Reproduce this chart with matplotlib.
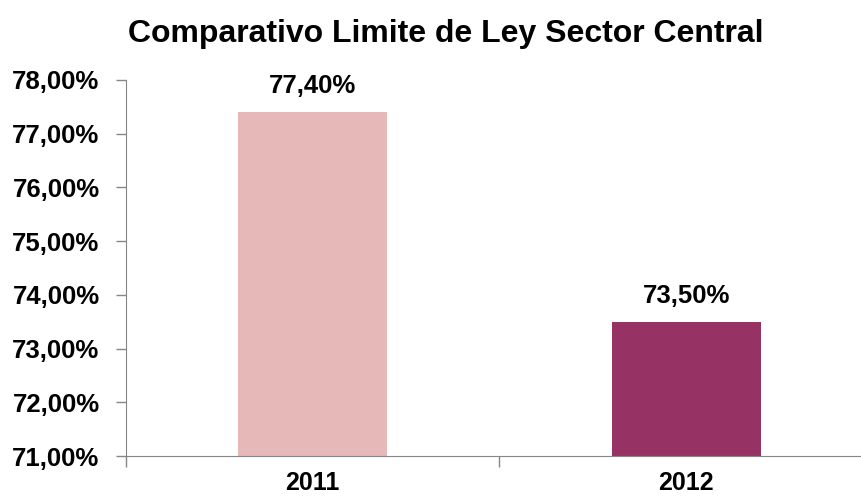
import matplotlib.pyplot as plt
from matplotlib.ticker import FuncFormatter

years = ["2011", "2012"]
values = [77.40, 73.50]
colors = ["#E6B8B7", "#963264"]
yticks = [71, 72, 73, 74, 75, 76, 77, 78]

plt.rcParams['font.family'] = ['Liberation Sans', 'DejaVu Sans']
plt.rcParams['font.weight'] = 'bold'

fig = plt.figure(figsize=(8.61, 4.98), dpi=100)
ax = fig.add_axes([0.1463, 0.0843, 0.8676, 0.7551])

x = list(range(len(years)))
ax.bar(x, values, width=0.40, color=colors, bottom=0)
ax.set_ylim(71, 78)
ax.set_xlim(-0.5, 1.5)
ax.set_yticks(yticks)
ax.yaxis.set_major_formatter(FuncFormatter(lambda v, p: f"{v:.2f}%".replace(".", ",")))

for xi, v in zip(x, values):
    ax.annotate(f"{v:.2f}%".replace(".", ","), (xi, v), xytext=(0, 10),
                textcoords="offset points", ha="center", va="bottom",
                fontsize=18.5, fontweight="bold")

# category labels between boundary ticks
ax.set_xticks([-0.5, 0.5, 1.5])
ax.set_xticklabels([])
ax.set_xticks(x, minor=True)
ax.set_xticklabels(years, minor=True, fontsize=18, fontweight="bold")
ax.tick_params(axis="x", which="minor", length=0, pad=11)
ax.tick_params(axis="x", which="major", length=8, color="#868686", width=1)
ax.tick_params(axis="y", length=7, color="#868686", width=1, labelsize=18.5, pad=12)

for s in ["top", "right"]:
    ax.spines[s].set_visible(False)
for s in ["left", "bottom"]:
    ax.spines[s].set_color("#868686")

fig.text(0.518, 0.932, "Comparativo Limite de Ley Sector Central", ha="center",
         va="center", fontsize=23, fontweight="bold")

fig.savefig("out.png", dpi=100)
